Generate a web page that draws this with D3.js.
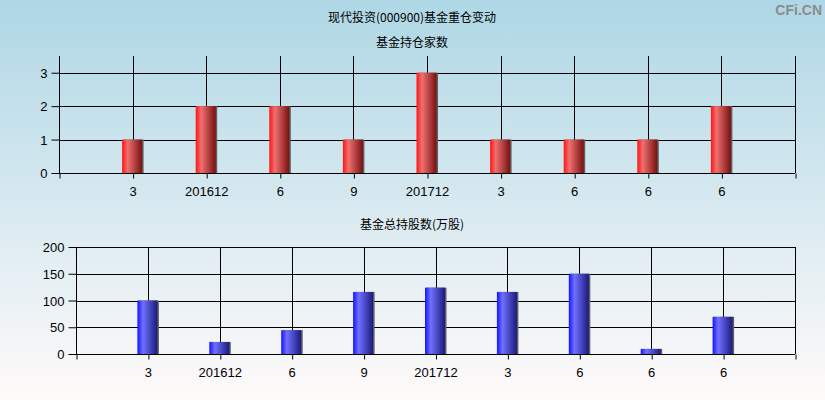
<!DOCTYPE html>
<html>
<head>
<meta charset="utf-8">
<script src="https://cdn.jsdelivr.net/npm/d3@7"></script>
<style>
body { margin: 0; padding: 0; }
svg { display: block; }
.title { font-family: "Noto Sans CJK SC", sans-serif; font-size: 12px; fill: #000; }
.tick text { font-family: "Liberation Sans", Arial, sans-serif; font-size: 13px; fill: #000; }
</style>
</head>
<body>
<div id="chart"></div>
<script>
// data
var categories = ["3", "201612", "6", "9", "201712", "3", "6", "6", "6"];
var fundCount = [1, 2, 2, 1, 3, 1, 1, 1, 2];
var totalShares = [100, 22.5, 44.5, 116, 124, 116, 150, 9.5, 69.5];
var countTicks = [0, 1, 2, 3];
var sharesTicks = [0, 50, 100, 150, 200];

var W = 825, H = 400;

var svg = d3.select("#chart")
  .append("svg")
  .attr("width", W)
  .attr("height", H);

var defs = svg.append("defs");

// background
var bg = defs.append("linearGradient")
  .attr("id", "bg")
  .attr("x1", 0).attr("y1", 0).attr("x2", 0).attr("y2", 1);
bg.append("stop").attr("offset", "0%").attr("stop-color", "#aed7e5");
bg.append("stop").attr("offset", "100%").attr("stop-color", "#fffafa");
svg.append("rect")
  .attr("width", W).attr("height", H)
  .attr("fill", "url(#bg)");

// bar gradients
function barGradient(id, c0, c1, c2) {
  var g = defs.append("linearGradient")
    .attr("id", id)
    .attr("x1", 0).attr("y1", 0).attr("x2", 1).attr("y2", 0);
  g.append("stop").attr("offset", "0%").attr("stop-color", c0);
  g.append("stop").attr("offset", "28%").attr("stop-color", c1);
  g.append("stop").attr("offset", "100%").attr("stop-color", c2);
}
barGradient("redBar", "#ff1414", "#f07070", "#781010");
barGradient("blueBar", "#1414ff", "#7070ff", "#1a1a7e");

// titles
svg.append("text")
  .attr("class", "title")
  .attr("x", 412).attr("y", 22)
  .attr("text-anchor", "middle")
  .text("现代投资(000900)基金重仓变动");

svg.append("text")
  .attr("x", 822).attr("y", 15)
  .attr("text-anchor", "end")
  .style("font-family", "Liberation Sans, Arial, sans-serif")
  .style("font-size", "14px")
  .style("font-weight", "bold")
  .style("fill", "#8c8c8c")
  .text("CFi.CN");

var drawPanel = function(opt) {
  var x = d3.scaleLinear()
    .domain([0, categories.length + 1])
    .range([opt.left, opt.right]);
  var y = d3.scaleLinear()
    .domain([0, opt.yMax])
    .range([opt.bottom, opt.top]);

  svg.append("text")
    .attr("class", "title")
    .attr("x", 412).attr("y", opt.titleY)
    .attr("text-anchor", "middle")
    .text(opt.title);

  var g = svg.append("g");

  // horizontal grid
  g.selectAll(".hgrid")
    .data(opt.ticks)
    .enter()
    .append("line")
    .attr("x1", opt.left).attr("x2", opt.right)
    .attr("y1", function(d) { return Math.round(y(d)) + 0.5; })
    .attr("y2", function(d) { return Math.round(y(d)) + 0.5; })
    .attr("stroke", "#000");

  // vertical grid
  var xs = d3.range(0, categories.length + 2);
  g.selectAll(".vgrid")
    .data(xs)
    .enter()
    .append("line")
    .attr("x1", function(d) { return Math.round(x(d)) + 0.5; })
    .attr("x2", function(d) { return Math.round(x(d)) + 0.5; })
    .attr("y1", opt.top)
    .attr("y2", Math.round(y(0)))
    .attr("stroke", "#000");

  // y axis
  g.append("g")
    .attr("transform", "translate(" + (Math.round(x(0)) + 0.5) + ",0.5)")
    .call(d3.axisLeft(y).tickValues(opt.ticks).tickSize(8).tickPadding(4).tickFormat(d3.format("d")))
    .call(function(a) { a.select(".domain").remove(); })
    .call(function(a) { a.selectAll("line").attr("stroke", "#000"); })
    .call(function(a) { a.selectAll(".tick line").attr("transform", "translate(0,-0.5)"); });

  // x axis
  g.append("g")
    .attr("transform", "translate(0," + (Math.round(y(0)) + 0.5) + ")")
    .call(d3.axisBottom(x)
      .tickValues(xs)
      .tickSize(5)
      .tickPadding(8)
      .tickFormat(function(d) { return (d >= 1 && d <= categories.length) ? categories[d - 1] : ""; }))
    .call(function(a) { a.select(".domain").remove(); })
    .call(function(a) { a.selectAll(".tick line").attr("stroke", "#000").attr("transform", "translate(0.5,0)"); });

  // bars
  var bars = g.append("g")
    .selectAll("g")
    .data(opt.values)
    .enter()
    .append("g");

  bars.append("rect")
    .attr("x", function(d, i) { return x(i + 1) - 9; })
    .attr("y", function(d) { return y(d); })
    .attr("width", 20)
    .attr("height", function(d) { return y(0) - y(d); })
    .attr("fill", "#5e5e5e");

  bars.append("rect")
    .attr("x", function(d, i) { return x(i + 1) - 10.5; })
    .attr("y", function(d) { return y(d); })
    .attr("width", 20)
    .attr("height", function(d) { return y(0) - y(d); })
    .attr("fill", "url(#" + opt.fill + ")");
};

drawPanel({
  title: "基金持仓家数", titleY: 47,
  left: 59, right: 795, top: 56, bottom: 173, yMax: 3.5,
  ticks: countTicks, values: fundCount, fill: "redBar"
});

drawPanel({
  title: "基金总持股数(万股)", titleY: 229,
  left: 76, right: 795, top: 247, bottom: 354, yMax: 200,
  ticks: sharesTicks, values: totalShares, fill: "blueBar"
});
</script>
</body>
</html>
